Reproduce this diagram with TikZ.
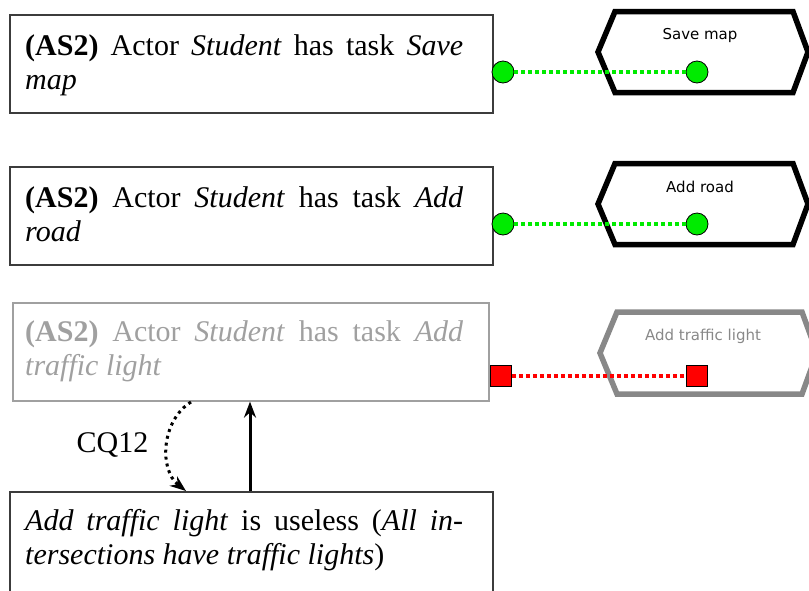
\documentclass[tikz,border=0pt]{standalone}
\usepackage{fontspec}
\setmainfont{Liberation Serif}
\newfontfamily\taskfont{DejaVu Sans}
\usepackage{xcolor}
\usepackage{tikz}
\usetikzlibrary{arrows.meta}

\definecolor{okgreen}{RGB}{0,235,0}
\definecolor{badred}{RGB}{255,0,0}
\definecolor{boxline}{RGB}{60,60,60}
\definecolor{fadegray}{RGB}{160,160,160}

\begin{document}
\begin{tikzpicture}[
        x=1pt, y=-1pt,
        stmtbox/.style={rectangle, draw=boxline, line width=1.2pt, minimum width=483pt, minimum height=98pt, inner sep=0pt},
        stmttext/.style={anchor=base west, inner sep=0pt, text width=438pt, align=justify, font=\fontsize{30}{34}\selectfont},
        hexline/.style={line width=5.5pt, line join=miter},
        tasklabel/.style={font=\taskfont\fontsize{15}{18}\selectfont},
        linkdot/.style={circle, draw=black, line width=0.8pt, fill=okgreen, minimum size=22pt, inner sep=0pt},
        linkbad/.style={rectangle, draw=black, line width=0.8pt, fill=badred, minimum size=21pt, inner sep=0pt},
        arrow/.style={line width=3pt, -{Stealth[length=16pt, width=12pt]}}
    ]
        \clip (0,0) rectangle (809,590);

        % Statements
        \node[stmtbox] (stmtSave) at (251.5,64) {};
        \node[stmttext] (stmtSaveText) at (25,55) {\textbf{(AS2)} Actor \emph{Student} has task \emph{Save}\linebreak \emph{map}};

        \node[stmtbox] (stmtRoad) at (251.5,216) {};
        \node[stmttext] (stmtRoadText) at (25,207) {\textbf{(AS2)} Actor \emph{Student} has task \emph{Add}\linebreak \emph{road}};

        \node[stmtbox, draw=fadegray, minimum width=476pt] (stmtLight) at (251,352) {};
        \node[stmttext, text=fadegray] (stmtLightText) at (25,341) {\textbf{(AS2)} Actor \emph{Student} has task \emph{Add}\linebreak \emph{traffic light}};

        \node[stmtbox, minimum height=118pt] (stmtUseless) at (251.5,551) {};
        \node[stmttext] (stmtUselessText) at (25,530) {\emph{Add traffic light} is useless (\emph{All in-}\linebreak \emph{tersections have traffic lights})};

        % Tasks
        \coordinate (hexSave) at (703,52);
        \coordinate (hexRoad) at (703,204);
        \coordinate (hexLight) at (704,353);
        \draw[hexline] (hexSave) ++(-105,0) -- ++(17,-40.5) -- ++(178,0) -- ++(15,40.5) -- ++(-15,40.5) -- ++(-178,0) -- cycle;
        \draw[hexline] (hexRoad) ++(-105,0) -- ++(17,-40.5) -- ++(178,0) -- ++(15,40.5) -- ++(-15,40.5) -- ++(-178,0) -- cycle;
        \draw[hexline, draw=fadegray!85!black] (hexLight) ++(-104,0) -- ++(17,-41) -- ++(185,0) -- ++(15,41) -- ++(-15,41) -- ++(-185,0) -- cycle;
        \node[tasklabel] (taskSave) at (700,35) {Save map};
        \node[tasklabel] (taskRoad) at (700,187) {Add road};
        \node[tasklabel, text=fadegray!85!black] (taskLight) at (703,336) {Add traffic light};

        % Links
        \node[linkdot] (saveLeft) at (503,72) {};
        \node[linkdot] (saveRight) at (697,72) {};
        \node[linkdot] (roadLeft) at (503,224) {};
        \node[linkdot] (roadRight) at (697,224) {};
        \node[linkbad] (lightLeft) at (501,376) {};
        \node[linkbad] (lightRight) at (697,376) {};
        \draw[okgreen, line width=4pt, dash pattern=on 4pt off 3pt] (saveLeft) -- (saveRight);
        \draw[okgreen, line width=4pt, dash pattern=on 4pt off 3pt] (roadLeft) -- (roadRight);
        \draw[badred, line width=4pt, dash pattern=on 4pt off 3pt] (lightLeft) -- (lightRight);

        % Critical question
        \coordinate (cqFrom) at (191,402);
        \coordinate (cqTo) at (186,491);
        \draw[arrow, dash pattern=on 3pt off 4pt] (cqFrom) to[bend right=55] node[left=14pt, font=\fontsize{30}{34}\selectfont] (cqLabel) {CQ12} (cqTo);
        \draw[arrow] (stmtUseless.north -| 250,0) -- (stmtLight.south -| 250,0);
    \end{tikzpicture}
\end{document}
